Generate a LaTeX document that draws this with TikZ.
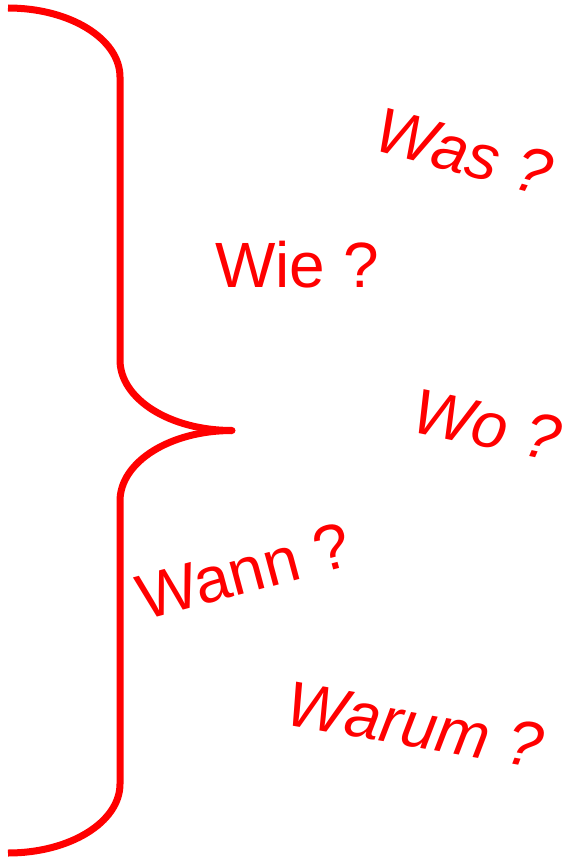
\documentclass[tikz,border=0pt]{standalone}
\usepackage{fontspec}
\setmainfont{Liberation Sans}
\begin{document}
\begin{tikzpicture}[x=1pt,y=-1pt,
  brace/.style={draw=red, line width=7pt, line join=round},
  word/.style={text=red, font=\fontsize{64}{70}\selectfont, inner sep=0pt},
  slanted/.style={word, font=\fontsize{64}{70}\selectfont\itshape}]
\useasboundingbox (0,0) rectangle (567,861);
% the big curly brace
\coordinate (top) at (8,8);
\coordinate (tip) at (232,430.5);
\coordinate (bot) at (8,853);
\draw[brace] (top) .. controls (70,8) and (120,39) .. (120,77)
  -- (120,360) .. controls (120,399) and (170,430.5) .. (tip);
\draw[brace, line cap=round] (tip) -- (tip);
\draw[brace] (tip) .. controls (170,430.5) and (120,462) .. (120,501)
  -- (120,784) .. controls (120,822) and (70,853) .. (bot);
% the questions
\node[slanted, rotate=-15] (was) at (464,152) {Was ?};
\node[word] (wie) at (297,265) {Wie ?};
\node[slanted, rotate=-12] (wo) at (487,425) {Wo ?};
\node[word, rotate=15] (wann) at (244,571) {Wann ?};
\node[slanted, rotate=-10] (warum) at (415,725) {Warum ?};
\end{tikzpicture}
\end{document}
